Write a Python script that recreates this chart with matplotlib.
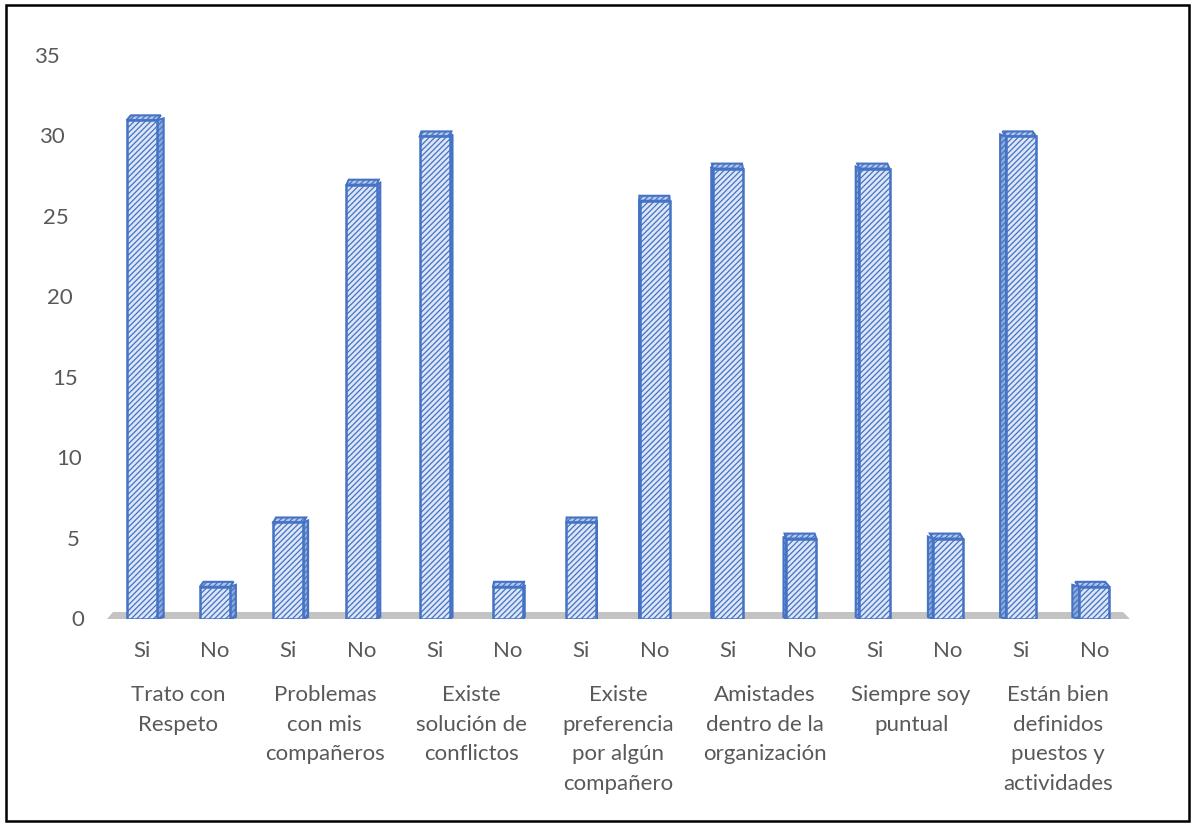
import matplotlib
matplotlib.use("Agg")
import matplotlib.pyplot as plt
from matplotlib.patches import Polygon, Rectangle
from matplotlib.transforms import blended_transform_factory

plt.rcParams['font.family'] = ['Lato', 'DejaVu Sans']
plt.rcParams['hatch.linewidth'] = 0.9
plt.rcParams['hatch.color'] = '#4472c4'

# Survey answers per statement
groups = ["Trato con\nRespeto", "Problemas\ncon mis\ncompañeros", "Existe\nsolución de\nconflictos",
          "Existe\npreferencia\npor algún\ncompañero", "Amistades\ndentro de la\norganización",
          "Siempre soy\npuntual", "Están bien\ndefinidos\npuestos y\nactividades"]
answers = ["Si", "No"]
si_values = [31, 6, 30, 6, 28, 28, 30]
no_values = [2, 27, 2, 26, 5, 5, 2]
yticks = [0, 5, 10, 15, 20, 25, 30, 35]

values = []
for s, n in zip(si_values, no_values):
    values += [s, n]
xs = list(range(len(values)))

W, H = 1195, 828
fig = plt.figure(figsize=(W / 100, H / 100), dpi=100)
ax = fig.add_axes([105 / W, 1 - 620 / H, 1026 / W, 563 / H])
ax.set_xlim(-0.5, len(values) - 0.5)
ax.set_ylim(0, 35)
ax.axis('off')

edge = '#4472c4'
front = '#dce6f7'
side = '#8fa9d9'
topc = '#b4c7ea'
bw = 0.41

# floor
px = 1026 / (len(values))  # pixels per x unit
ux = 1 / px
uy = 35 / 563
floor = Polygon([(-0.5 + 2 * ux, 0), (len(values) - 0.5 - 1 * ux, 0),
                 (len(values) - 0.5 - 8 * ux, 7 * uy), (-0.5 + 8 * ux, 7 * uy)],
                closed=True, facecolor='#c3c3c3', edgecolor='none', zorder=1)
ax.add_patch(floor)

center = (len(values) - 1) / 2
bars = ax.bar(xs, values, width=bw, color=front, edgecolor=edge, linewidth=1.8,
              hatch='//////', zorder=3)
for x, v in zip(xs, values):
    # perspective: side face visible towards the centre of the chart
    dpx = 7 * (center - x) / center
    d = dpx * ux
    up = 5 * uy
    if d >= 0:
        xe = x + bw / 2
    else:
        xe = x - bw / 2
    sidep = Polygon([(xe, 0), (xe + d, up * 0.4), (xe + d, v + up * 0.4), (xe, v)],
                    closed=True, facecolor=side, edgecolor=edge, linewidth=1.5,
                    hatch='//////', zorder=2)
    ax.add_patch(sidep)
    topp = Polygon([(x - bw / 2, v), (x + bw / 2, v), (x + bw / 2 + d * 0.6, v + up),
                    (x - bw / 2 + d * 0.6, v + up)],
                   closed=True, facecolor=topc, edgecolor=edge, linewidth=1.5,
                   hatch='//////', zorder=2)
    ax.add_patch(topp)

tc = '#595959'
fs = 16
# value axis labels, slanted in perspective
tr = blended_transform_factory(fig.transFigure, ax.transData)
for t in yticks:
    xpix = 78 - (31 / 35) * t
    ax.text(xpix / W, t, str(t), transform=tr, ha='center', va='center',
            fontsize=fs, color=tc)

# category labels
trx = blended_transform_factory(ax.transData, fig.transFigure)
for i, x in enumerate(xs):
    ax.text(x, 1 - 651 / H, answers[i % 2], transform=trx, ha='center', va='center',
            fontsize=fs, color=tc)
for g, name in enumerate(groups):
    ax.text(2 * g + 0.5, 1 - 685 / H, name, transform=trx, ha='center', va='top',
            fontsize=fs, color=tc, linespacing=1.6)

fig.patches.append(Rectangle((6 / W, 6 / H), 1 - 12 / W, 1 - 12 / H, transform=fig.transFigure,
                             fill=False, edgecolor='black', linewidth=1.8))

fig.savefig('out.png', dpi=100, facecolor='white')
